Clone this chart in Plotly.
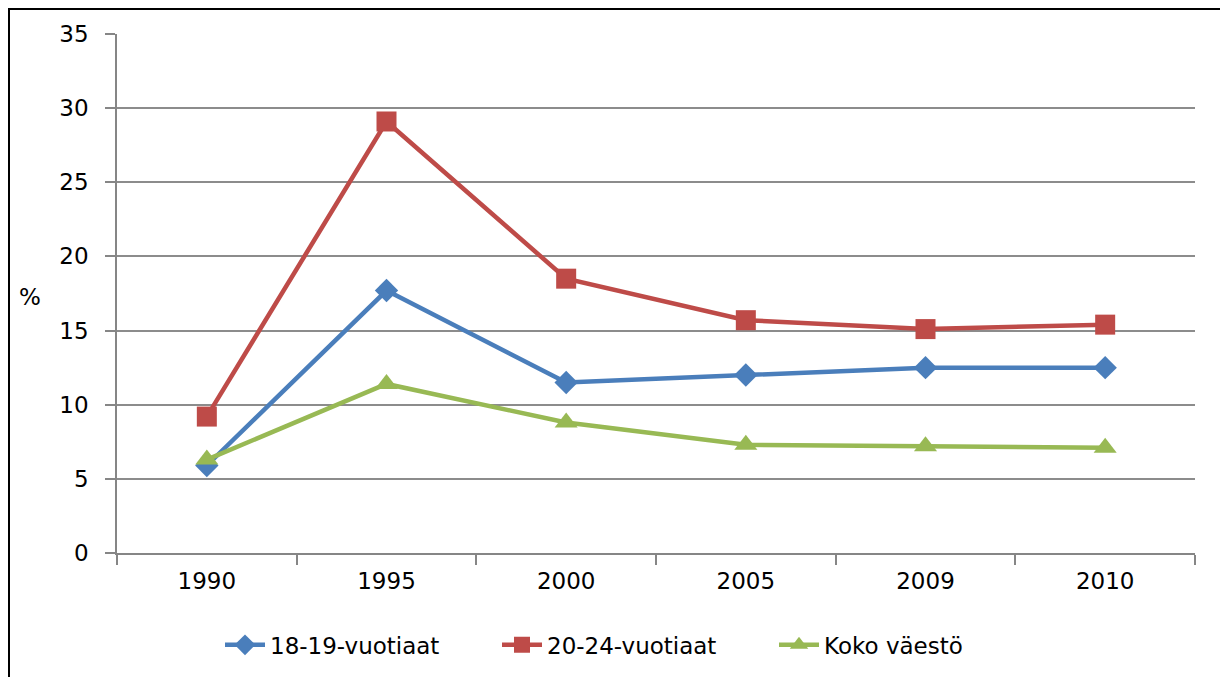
import plotly.graph_objects as go

years = ["1990", "1995", "2000", "2005", "2009", "2010"]
s1_name = "18-19-vuotiaat"
s1_vals = [5.9, 17.7, 11.5, 12.0, 12.5, 12.5]
s2_name = "20-24-vuotiaat"
s2_vals = [9.2, 29.1, 18.5, 15.7, 15.1, 15.4]
s3_name = "Koko väestö"
s3_vals = [6.3, 11.4, 8.8, 7.3, 7.2, 7.1]
y_ticks = [0, 5, 10, 15, 20, 25, 30, 35]

FONT = "DejaVu Sans"
FS = 23

fig = go.Figure()
fig.add_trace(go.Scatter(x=years, y=s1_vals, name=s1_name, mode="lines+markers",
                         line=dict(color="#4A7EBB", width=4.5),
                         marker=dict(symbol="diamond", size=18, color="#4A7EBB")))
fig.add_trace(go.Scatter(x=years, y=s2_vals, name=s2_name, mode="lines+markers",
                         line=dict(color="#BE4B48", width=4.5),
                         marker=dict(symbol="square", size=20, color="#BE4B48")))
fig.add_trace(go.Scatter(x=years, y=s3_vals, name=s3_name, mode="lines+markers",
                         line=dict(color="#98B954", width=4.5),
                         marker=dict(symbol="triangle-up", size=20, color="#98B954")))

# page offset of 8px (body margin): plot area in page x 117-1195, y 34-553
fig.update_layout(
    width=1228, height=677,
    margin=dict(l=109, r=41, t=26, b=132, autoexpand=False),
    paper_bgcolor="white", plot_bgcolor="white",
    font=dict(family=FONT, size=FS, color="#000000"),
    showlegend=True,
    legend=dict(orientation="h", x=(220 - 117) / 1078, xanchor="left",
                y=-0.177, yanchor="middle",
                font=dict(family=FONT, size=FS, color="#000000"),
                entrywidth=222, entrywidthmode="pixels",
                itemwidth=40, traceorder="normal"),
    xaxis=dict(type="category", range=[-0.5, 5.5], showgrid=False, automargin=False,
               showline=True, linecolor="#868686", linewidth=1.5,
               ticks="outside", tickson="boundaries", ticklen=10, tickcolor="#868686",
               tickwidth=1.5, ticklabelstandoff=7, tickfont=dict(family=FONT, size=FS),
               zeroline=False),
    yaxis=dict(range=[0, 35], tickvals=y_ticks, showgrid=True, gridcolor="#8C8C8C",
               gridwidth=1.5, showline=True, linecolor="#868686", linewidth=1.5,
               automargin=False,
               ticks="outside", ticklen=10, tickcolor="#868686", tickwidth=1.5,
               ticklabelstandoff=12, zeroline=False,
               tickfont=dict(family=FONT, size=FS)),
)

fig.add_annotation(text="%", xref="paper", yref="paper", x=(30 - 117) / 1078,
                   y=(553 - 297) / 519, xanchor="center", yanchor="middle",
                   showarrow=False, font=dict(family=FONT, size=FS, color="#000000"))

fig.add_shape(type="rect", xref="paper", yref="paper",
              x0=(9 - 117) / 1078, x1=(1260 - 117) / 1078,
              y0=(553 - 700) / 519, y1=1 + (34 - 9) / 519,
              line=dict(color="black", width=2), fillcolor="rgba(0,0,0,0)", layer="below")

fig.write_html("out.html")
